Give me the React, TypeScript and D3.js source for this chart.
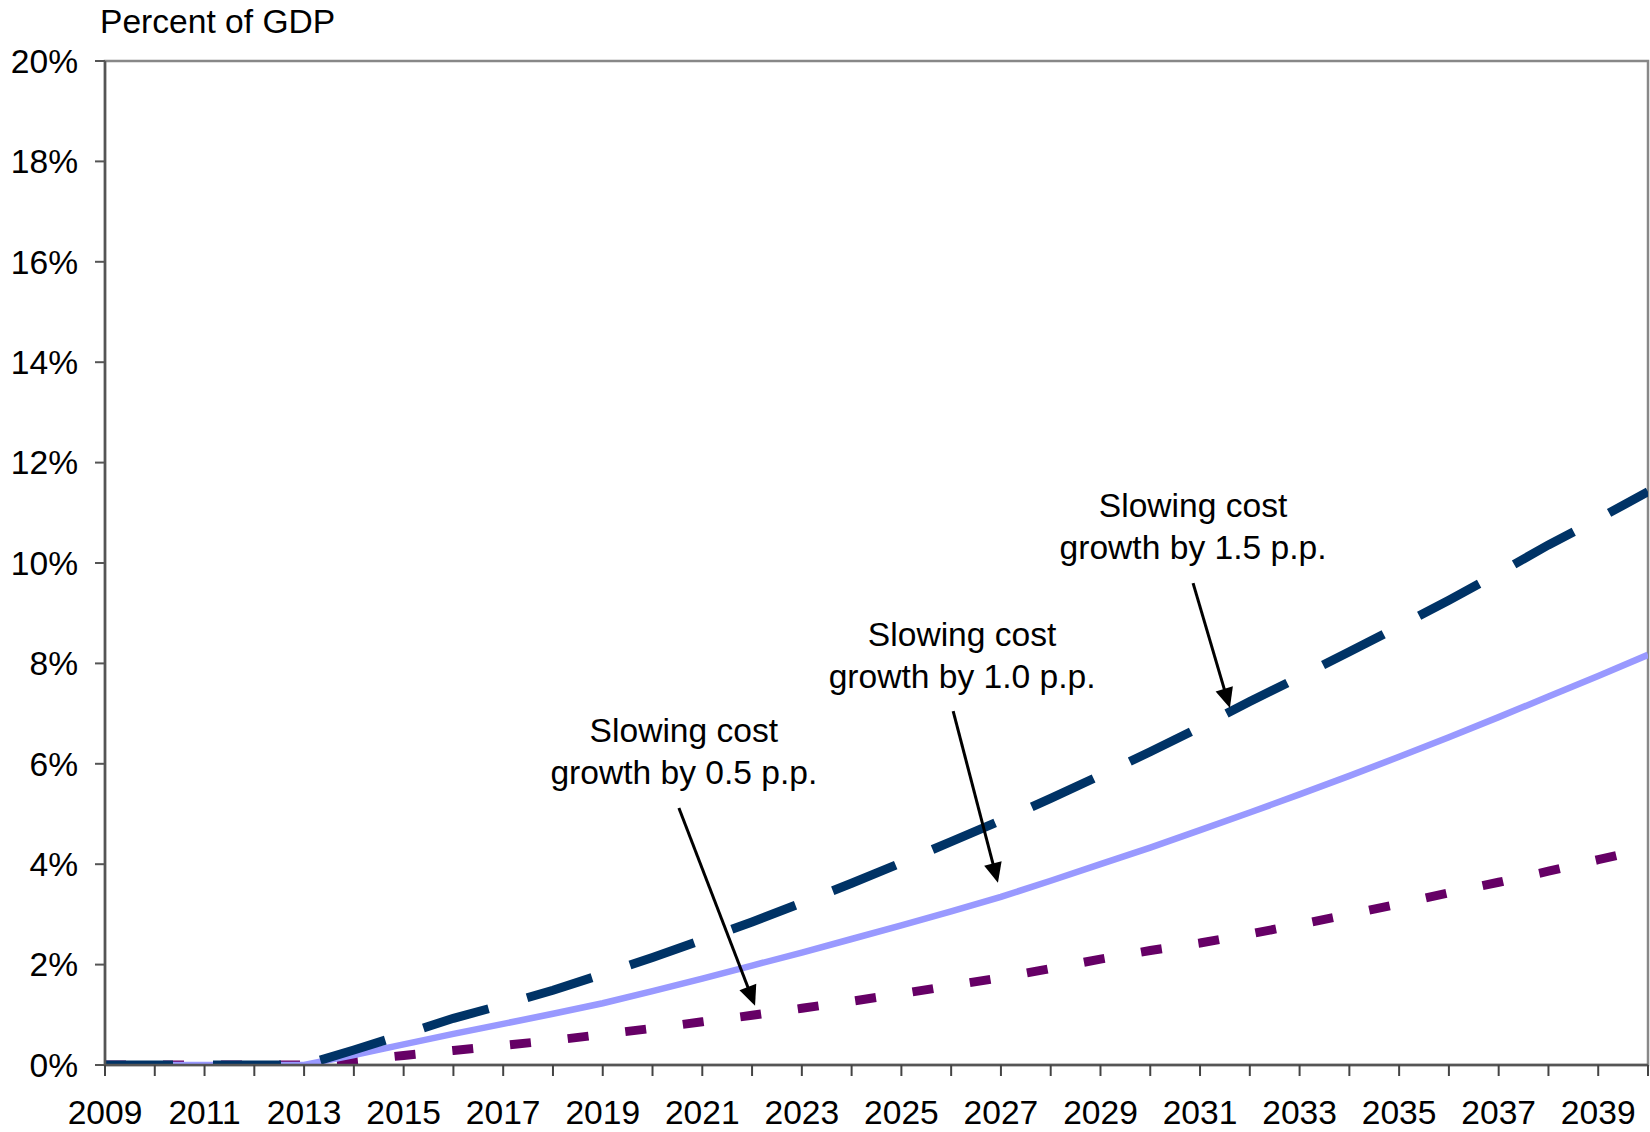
import React from "react";
import * as d3 from "d3";

// ---------- data ----------
const years = [
  2009, 2010, 2011, 2012, 2013, 2014, 2015, 2016, 2017, 2018, 2019, 2020, 2021, 2022, 2023, 2024,
  2025, 2026, 2027, 2028, 2029, 2030, 2031, 2032, 2033, 2034, 2035, 2036, 2037, 2038, 2039, 2040,
];

// Slowing cost growth by 1.5 p.p. (dark navy, long dash)
const slow15 = [
  0, 0, 0, 0, 0, 0.3, 0.61, 0.93, 1.2, 1.49, 1.81, 2.14, 2.49, 2.85, 3.23, 3.62,
  4.03, 4.45, 4.87, 5.31, 5.77, 6.24, 6.73, 7.24, 7.73, 8.23, 8.74, 9.26, 9.8, 10.36, 10.88, 11.42,
];
// Slowing cost growth by 1.0 p.p. (lavender, solid)
const slow10 = [
  0, 0, 0, 0, 0, 0.2, 0.41, 0.62, 0.82, 1.02, 1.23, 1.47, 1.72, 1.98, 2.24, 2.51,
  2.78, 3.06, 3.35, 3.67, 4.0, 4.33, 4.68, 5.03, 5.39, 5.76, 6.14, 6.53, 6.93, 7.34, 7.75, 8.17,
];
// Slowing cost growth by 0.5 p.p. (purple, short dash)
const slow05 = [
  0, 0, 0, 0, 0, 0.09, 0.19, 0.29, 0.39, 0.49, 0.61, 0.73, 0.86, 0.99, 1.13, 1.27,
  1.42, 1.58, 1.74, 1.92, 2.11, 2.28, 2.43, 2.61, 2.8, 3.0, 3.21, 3.43, 3.64, 3.86, 4.09, 4.32,
];

const yTicks = [0, 2, 4, 6, 8, 10, 12, 14, 16, 18, 20];
const xLabelYears = [2009, 2011, 2013, 2015, 2017, 2019, 2021, 2023, 2025, 2027, 2029, 2031, 2033, 2035, 2037, 2039];

const yTitle = "Percent of GDP";

// annotations: text anchor and arrow tail/tip in data units (year, percent)
const annotations = [
  { lines: ["Slowing cost", "growth by 0.5 p.p."], tx: 2020.63, ty: [6.43, 5.6], from: [2020.53, 5.12], to: [2022.06, 1.18] },
  { lines: ["Slowing cost", "growth by 1.0 p.p."], tx: 2026.22, ty: [8.35, 7.51], from: [2026.04, 7.05], to: [2026.94, 3.63] },
  { lines: ["Slowing cost", "growth by 1.5 p.p."], tx: 2030.86, ty: [10.92, 10.08], from: [2030.86, 9.6], to: [2031.6, 7.11] },
];

// ---------- layout ----------
const W = 1650;
const H = 1132;
const M = { left: 105, right: 1648, top: 61, bottom: 1065 };
const FONT = "'Liberation Sans', Arial, Helvetica, sans-serif";
const FS = 33.6;

export default function App() {
  const x = d3.scaleLinear().domain([2009, 2040]).range([M.left, M.right]);
  const y = d3.scaleLinear().domain([0, 20]).range([M.bottom, M.top]);

  const line = d3
    .line<number>()
    .x((_, i) => x(years[i]))
    .y((d) => y(d));

  const series = [
    { values: slow05, color: "#660066", width: 9, dash: "21 37" },
    { values: slow10, color: "#9999FF", width: 6.5, dash: undefined },
    { values: slow15, color: "#003366", width: 9, dash: "68 40" },
  ];

  const arrow = (a: (typeof annotations)[number], k: number) => {
    const x1 = x(a.from[0]);
    const y1 = y(a.from[1]);
    const x2 = x(a.to[0]);
    const y2 = y(a.to[1]);
    const dx = x2 - x1;
    const dy = y2 - y1;
    const len = Math.hypot(dx, dy);
    const ux = dx / len;
    const uy = dy / len;
    const hl = 20;
    const hw = 9;
    const bx = x2 - ux * hl;
    const by = y2 - uy * hl;
    const pts = [
      [x2, y2],
      [bx - uy * hw, by + ux * hw],
      [bx + uy * hw, by - ux * hw],
    ]
      .map((p) => p.join(","))
      .join(" ");
    return (
      <g key={"arr" + k}>
        <line x1={x1} y1={y1} x2={bx + ux * 2} y2={by + uy * 2} stroke="#000" strokeWidth={3} />
        <polygon points={pts} fill="#000" />
      </g>
    );
  };

  return (
    <svg
      width={W}
      height={H}
      viewBox={`0 0 ${W} ${H}`}
      style={{ position: "absolute", left: 0, top: 0, display: "block", background: "#fff" }}
      fontFamily={FONT}
    >
      <defs>
        <clipPath id="plotClip">
          <rect x={M.left} y={M.top} width={M.right - M.left} height={M.bottom - M.top} />
        </clipPath>
      </defs>
      <rect x={0} y={0} width={W} height={H} fill="#fff" />

      {/* plot border */}
      <rect
        x={M.left}
        y={M.top}
        width={M.right - M.left}
        height={M.bottom - M.top}
        fill="none"
        stroke="#888"
        strokeWidth={2.5}
      />

      {/* series */}
      <g clipPath="url(#plotClip)">
        {series.map((s, i) => (
          <path
            key={i}
            d={line(s.values) || ""}
            fill="none"
            stroke={s.color}
            strokeWidth={s.width}
            strokeDasharray={s.dash}
            strokeLinecap="butt"
            strokeLinejoin="miter"
          />
        ))}
      </g>

      {/* y axis */}
      <line x1={M.left} y1={M.top} x2={M.left} y2={M.bottom} stroke="#555" strokeWidth={2.5} />
      {yTicks.map((t) => (
        <g key={"y" + t}>
          <line x1={M.left - 10} x2={M.left} y1={y(t)} y2={y(t)} stroke="#555" strokeWidth={2} />
          <text x={78} y={y(t)} dy="0.35em" textAnchor="end" fontSize={FS} fill="#000">
            {t + "%"}
          </text>
        </g>
      ))}

      {/* x axis */}
      <line x1={M.left} y1={M.bottom} x2={M.right} y2={M.bottom} stroke="#555" strokeWidth={2.5} />
      {years.map((yr) => (
        <line key={"xt" + yr} x1={x(yr)} x2={x(yr)} y1={M.bottom} y2={M.bottom + 11} stroke="#444" strokeWidth={2} />
      ))}
      {xLabelYears.map((yr) => (
        <text key={"xl" + yr} x={x(yr)} y={1124} textAnchor="middle" fontSize={FS} fill="#000">
          {yr}
        </text>
      ))}

      {/* title */}
      <text x={100} y={33} fontSize={FS} fill="#000">
        {yTitle}
      </text>

      {/* annotations */}
      {annotations.map((a, k) => (
        <g key={"ann" + k}>
          {a.lines.map((l, j) => (
            <text key={j} x={x(a.tx)} y={y(a.ty[j])} textAnchor="middle" fontSize={FS} fill="#000">
              {l}
            </text>
          ))}
          {arrow(a, k)}
        </g>
      ))}
    </svg>
  );
}
